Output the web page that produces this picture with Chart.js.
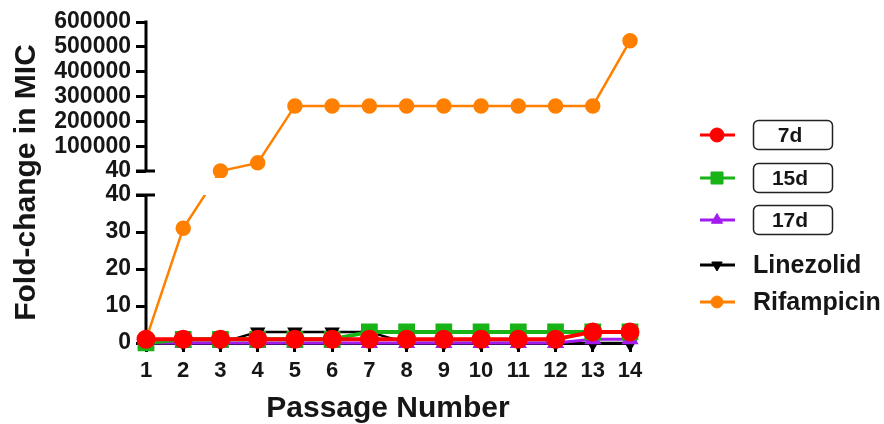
<!DOCTYPE html>
<html>
<head>
<meta charset="utf-8">
<script src="https://cdn.jsdelivr.net/npm/chart.js@4.4.1/dist/chart.umd.min.js"></script>
<style>
  html, body { margin: 0; padding: 0; background: #fff; }
  #wrap { width: 884px; height: 424px; }
</style>
</head>
<body>
<div id="wrap"><canvas id="mic"></canvas></div>
<script>
// ── Data ─────────────────────────────────────────────────────────────────────

const PASSAGES   = ['1', '2', '3', '4', '5', '6', '7', '8', '9', '10', '11', '12', '13', '14'];
const D7         = [1, 1, 1, 1, 1, 1, 1, 1, 1, 1, 1, 1, 3, 3];
const D15        = [0, 1, 1, 1, 1, 1, 3, 3, 3, 3, 3, 3, 3, 3];
const D17        = [0, 0, 0, 0, 0, 0, 0, 0, 0, 0, 0, 0, 1, 1];
const LINEZOLID  = [0, 0, 0, 3, 3, 3, 3, 0, 0, 0, 0, 0, 0, 0];
const RIFAMPICIN = [1, 31, 64, 32768, 262144, 262144, 262144, 262144, 262144, 262144, 262144, 262144, 262144, 524288];

// y axis is split in two: 0–40 below, 40–600000 above
const LOW_TICKS  = [0, 10, 20, 30, 40];
const HIGH_TICKS = [40, 100000, 200000, 300000, 400000, 500000, 600000];

// ── Layout constants ─────────────────────────────────────────────────────────

const FONT     = "Arial, 'Liberation Sans', sans-serif";
const INK      = '#161616';
const UP_FRAC  = 149 / 321;   // share of axis height for the upper part
const LOW_FRAC = 148 / 321;   // share for the lower part (rest is the gap)
const LEGEND_Y = [135, 178, 220, 265, 302];
const BOXED    = ['7d', '15d', '17d'];

// ── Broken linear scale ──────────────────────────────────────────────────────

class BrokenLinearScale extends Chart.LinearScale {
  determineDataLimits() {
    this.min = 0;
    this.max = HIGH_TICKS[HIGH_TICKS.length - 1];
  }
  buildTicks() {
    return LOW_TICKS.map(v => ({ value: v, upper: false }))
      .concat(HIGH_TICKS.map(v => ({ value: v, upper: true })));
  }
  segments() {
    const h = this.bottom - this.top;
    return {
      upTop: this.top,
      upBottom: this.top + h * UP_FRAC,
      lowTop: this.bottom - h * LOW_FRAC,
      lowBottom: this.bottom,
    };
  }
  pixelFor(v, upper) {
    const s = this.segments();
    const lowMax = LOW_TICKS[LOW_TICKS.length - 1];
    if (upper) {
      const hMin = HIGH_TICKS[0], hMax = HIGH_TICKS[HIGH_TICKS.length - 1];
      return s.upBottom - (v - hMin) / (hMax - hMin) * (s.upBottom - s.upTop);
    }
    return s.lowBottom - v / lowMax * (s.lowBottom - s.lowTop);
  }
  getPixelForValue(v) {
    return this.pixelFor(v, v > LOW_TICKS[LOW_TICKS.length - 1]);
  }
  getPixelForTick(i) {
    const t = this.ticks[i];
    return t ? this.pixelFor(t.value, t.upper) : NaN;
  }
  getValueForPixel(p) {
    const s = this.segments();
    const lowMax = LOW_TICKS[LOW_TICKS.length - 1];
    if (p >= s.lowTop) return (s.lowBottom - p) / (s.lowBottom - s.lowTop) * lowMax;
    const hMin = HIGH_TICKS[0], hMax = HIGH_TICKS[HIGH_TICKS.length - 1];
    return hMin + (s.upBottom - p) / (s.upBottom - s.upTop) * (hMax - hMin);
  }
}
BrokenLinearScale.id = 'brokenLinear';
BrokenLinearScale.defaults = Chart.LinearScale.defaults;
Chart.register(BrokenLinearScale);

// ── Plugins ──────────────────────────────────────────────────────────────────

// hide everything that falls inside the axis gap, draw split axis line
const axisBreak = {
  id: 'axisBreak',
  beforeDatasetsDraw(chart) {
    const y = chart.scales.y, s = y.segments(), ctx = chart.ctx;
    const x0 = chart.chartArea.left;
    ctx.save();
    ctx.strokeStyle = '#000';
    ctx.lineWidth = 3;
    ctx.beginPath();
    ctx.moveTo(x0, s.upTop - 1.5);
    ctx.lineTo(x0, s.upBottom);
    ctx.moveTo(x0, s.lowTop);
    ctx.lineTo(x0, s.lowBottom + 1.5);
    // caps on both sides of the break
    ctx.moveTo(x0 - 10, s.upBottom);
    ctx.lineTo(x0 + 9, s.upBottom);
    ctx.moveTo(x0 - 10, s.lowTop);
    ctx.lineTo(x0 + 9, s.lowTop);
    ctx.stroke();
    ctx.restore();
  },
  beforeDatasetDraw(chart) {
    const s = chart.scales.y.segments(), ctx = chart.ctx;
    ctx.save();
    ctx.beginPath();
    ctx.rect(0, 0, chart.width, s.upBottom + 7);
    ctx.rect(0, s.lowTop, chart.width, chart.height - s.lowTop);
    ctx.clip();
  },
  afterDatasetDraw(chart) {
    chart.ctx.restore();
  },
};

// legend on the right, first three names in rounded boxes
const sideLegend = {
  id: 'sideLegend',
  afterDraw(chart) {
    const ctx = chart.ctx;
    chart.data.datasets.forEach((ds, i) => {
      const y = LEGEND_Y[i];
      ctx.save();
      ctx.strokeStyle = ds.borderColor;
      ctx.lineWidth = 3;
      ctx.beginPath();
      ctx.moveTo(700, y);
      ctx.lineTo(735, y);
      ctx.stroke();
      ctx.fillStyle = ds.pointBackgroundColor;
      ctx.strokeStyle = ds.pointBorderColor;
      ctx.lineWidth = 1;
      Chart.helpers.drawPoint(ctx, {
        pointStyle: ds.pointStyle,
        radius: ds.pointRadius - 0.5,
        rotation: ds.pointRotation || 0,
        borderWidth: 1,
      }, 717, y);

      ctx.fillStyle = INK;
      ctx.textBaseline = 'middle';
      if (BOXED.includes(ds.label)) {
        ctx.strokeStyle = '#222';
        ctx.lineWidth = 1.5;
        ctx.beginPath();
        ctx.roundRect(753.5, y - 14.5, 79, 29, 5);
        ctx.stroke();
        ctx.font = `bold 21px ${FONT}`;
        ctx.textAlign = 'center';
        ctx.fillText(ds.label, 790, y + 1);
      } else {
        ctx.font = `bold 25px ${FONT}`;
        ctx.textAlign = 'left';
        ctx.fillText(ds.label, 753, y + 1);
      }
      ctx.restore();
    });
  },
};

// ── Chart ────────────────────────────────────────────────────────────────────

function series(label, data, color, style, radius, width, rotation) {
  return {
    label,
    data,
    borderColor: color,
    backgroundColor: color,
    pointBackgroundColor: color,
    pointBorderColor: color,
    pointStyle: style,
    pointRadius: radius,
    pointHoverRadius: radius,
    pointRotation: rotation || 0,
    borderWidth: width,
    tension: 0,
    clip: false,
  };
}

new Chart(document.getElementById('mic'), {
  type: 'line',
  data: {
    labels: PASSAGES,
    datasets: [
      series('7d',         D7,         '#ff0000', 'circle',   7.5, 4),
      series('15d',        D15,        '#17b317', 'rect',     9,   4),
      series('17d',        D17,        '#a21cf0', 'triangle', 7,   3),
      series('Linezolid',  LINEZOLID,  '#000000', 'triangle', 6.5, 2.5, 180),
      series('Rifampicin', RIFAMPICIN, '#ff8000', 'circle',   6.5, 2.5),
    ],
  },
  options: {
    responsive: true,
    maintainAspectRatio: false,
    animation: false,
    devicePixelRatio: 1,
    layout: { padding: { top: 22, right: 254, left: 0, bottom: 0 } },
    plugins: { legend: { display: false }, tooltip: { enabled: false } },
    scales: {
      x: {
        type: 'category',
        offset: false,
        afterFit: s => { s.height = 81; },
        grid: { drawOnChartArea: false, drawTicks: true, tickLength: 9, tickWidth: 3, tickColor: '#000', offset: false },
        border: { display: true, color: '#000', width: 3 },
        ticks: { color: INK, font: { family: FONT, size: 22, weight: 'bold' }, padding: 6, maxRotation: 0, autoSkip: false },
        title: { display: true, text: 'Passage Number', color: INK,
                 font: { family: FONT, size: 30, weight: 'bold', lineHeight: 1 }, padding: { top: 0, bottom: 0 } },
      },
      y: {
        type: 'brokenLinear',
        afterFit: s => { s.width = 146; },
        grid: { drawOnChartArea: false, drawTicks: true, tickLength: 10, tickWidth: 3, tickColor: '#000' },
        border: { display: false },
        ticks: { color: INK, font: { family: FONT, size: 23, weight: 'bold' }, padding: 5, autoSkip: false,
                 callback: v => String(v) },
        title: { display: true, text: 'Fold-change in MIC', color: INK,
                 font: { family: FONT, size: 30, weight: 'bold', lineHeight: 1 }, padding: { top: 12, bottom: 0 } },
      },
    },
  },
  plugins: [axisBreak, sideLegend],
});
</script>
</body>
</html>
